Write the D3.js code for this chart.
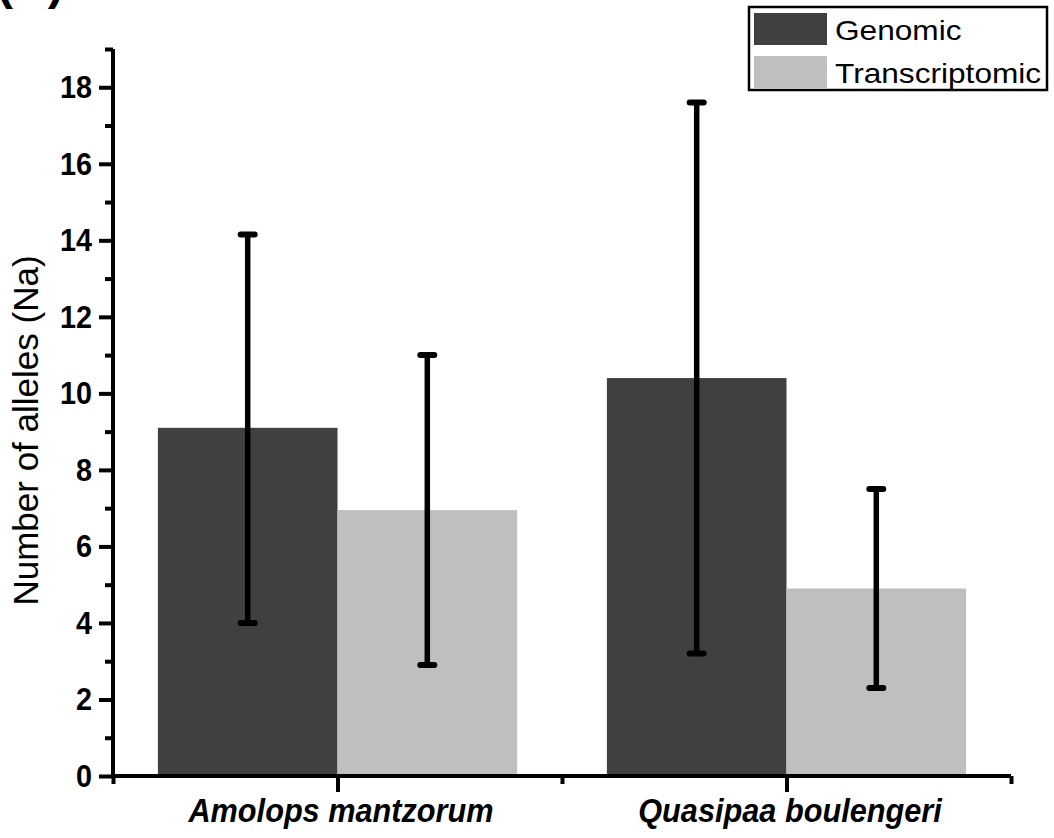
<!DOCTYPE html>
<html>
<head>
<meta charset="utf-8">
<script src="https://cdn.jsdelivr.net/npm/d3@7"></script>
<style>
  html, body { margin: 0; padding: 0; background: #fff; }
  svg { display: block; font-family: "Liberation Sans", Arial, sans-serif; }
</style>
</head>
<body>
<svg id="chart" width="1054" height="838"></svg>
<script>
const categories = ["Amolops mantzorum", "Quasipaa boulengeri"];
const seriesNames = ["Genomic", "Transcriptomic"];
const genomicMean = [9.1, 10.4];
const genomicLow = [4.0, 3.2];
const genomicHigh = [14.15, 17.6];
const transcriptomicMean = [6.95, 4.9];
const transcriptomicLow = [2.9, 2.3];
const transcriptomicHigh = [11.0, 7.5];
const yTicks = [0, 2, 4, 6, 8, 10, 12, 14, 16, 18];
const yMinorTicks = [1, 3, 5, 7, 9, 11, 13, 15, 17, 19];
const colors = ["#404040", "#bfbfbf"];

const rows = categories.map((c, i) => ({
  cat: c, pos: 1 + 2 * i,
  vals: [
    {s: 0, mean: genomicMean[i], lo: genomicLow[i], hi: genomicHigh[i]},
    {s: 1, mean: transcriptomicMean[i], lo: transcriptomicLow[i], hi: transcriptomicHigh[i]}
  ]
}));

const svg = d3.select("#chart");
const x = d3.scaleLinear().domain([0, 4]).range([113, 1011]);
const y = d3.scaleLinear().domain([0, 19]).range([776, 49]);
const barW = x(0.8) - x(0);

// Bars
const g = svg.append("g");
rows.forEach(r => {
  r.vals.forEach(v => {
    const x0 = v.s === 0 ? x(r.pos) - barW : x(r.pos);
    g.append("rect")
      .attr("x", x0).attr("y", y(v.mean))
      .attr("width", barW).attr("height", y(0) - y(v.mean))
      .attr("fill", colors[v.s]);
  });
});
// Error bars
rows.forEach(r => {
  r.vals.forEach(v => {
    const cx = v.s === 0 ? x(r.pos) - barW / 2 : x(r.pos) + barW / 2;
    g.append("line").attr("x1", cx).attr("x2", cx)
      .attr("y1", y(v.lo)).attr("y2", y(v.hi))
      .attr("stroke", "#000").attr("stroke-width", 5.5);
    [v.lo, v.hi].forEach(val => {
      g.append("line").attr("x1", cx - 7).attr("x2", cx + 7)
        .attr("y1", y(val)).attr("y2", y(val))
        .attr("stroke", "#000").attr("stroke-width", 6)
        .attr("stroke-linecap", "round");
    });
  });
});

// Y axis
const yAxis = d3.axisLeft(y).tickValues(yTicks).tickSize(14).tickPadding(7).tickFormat(d3.format("d"));
const ya = svg.append("g").attr("transform", `translate(${x(0)},0)`).call(yAxis);
const yMinor = d3.axisLeft(y).tickValues(yMinorTicks).tickSize(8).tickFormat("");
const ym = svg.append("g").attr("transform", `translate(${x(0)},0)`).call(yMinor);
[ya, ym].forEach(a => {
  a.select(".domain").attr("stroke", "#000").attr("stroke-width", 4);
  a.selectAll(".tick line").attr("stroke", "#000").attr("stroke-width", 4);
});
ym.select(".domain").remove();
ya.select(".domain").attr("d", `M0,${y(0)}V${y(19)}`);
ya.selectAll(".tick text")
  .attr("font-size", 32).attr("font-weight", "bold").attr("fill", "#000")
  .attr("font-family", "'Liberation Sans', Arial, sans-serif")
  .each(function() {
    const t = d3.select(this);
    const xx = +t.attr("x");
    t.attr("transform", `translate(${xx},0) scale(0.9,1) translate(${-xx},0)`);
  });

// X axis
const xAxis = d3.axisBottom(x).tickValues(rows.map(r => r.pos)).tickSize(16).tickPadding(7)
  .tickFormat((d, i) => categories[i]);
const xa = svg.append("g").attr("transform", `translate(0,${y(0)})`).call(xAxis);
const xMinor = d3.axisBottom(x).tickValues([0, 2, 4]).tickSize(8).tickFormat("");
const xm = svg.append("g").attr("transform", `translate(0,${y(0)})`).call(xMinor);
[xa, xm].forEach(a => {
  a.select(".domain").attr("stroke", "#000").attr("stroke-width", 4);
  a.selectAll(".tick line").attr("stroke", "#000").attr("stroke-width", 4);
});
xm.select(".domain").remove();
xa.select(".domain").attr("d", `M${x(0)},0H${x(4)}`);
xa.selectAll(".tick text")
  .attr("font-size", 33).attr("font-weight", "bold").attr("font-style", "italic")
  .attr("fill", "#000")
  .attr("font-family", "'Liberation Sans', Arial, sans-serif")
  .attr("transform", "translate(3,0) scale(0.93,1)");

// Y axis title
svg.append("text")
  .attr("transform", `translate(38,${(y(0) + y(19)) / 2 + 18}) rotate(-90)`)
  .attr("text-anchor", "middle")
  .attr("font-size", 35).attr("fill", "#000")
  .text("Number of alleles (Na)");

// Panel label (cut off at top, as in the source figure)
svg.append("text").attr("x", -3).attr("y", -1)
  .attr("font-size", 48).attr("font-weight", "bold").attr("fill", "#000")
  .text("(A)");

// Legend
const leg = svg.append("g");
leg.append("rect").attr("x", 749).attr("y", 7).attr("width", 298).attr("height", 83)
  .attr("fill", "#fff").attr("stroke", "#000").attr("stroke-width", 2.5);
seriesNames.forEach((s, i) => {
  leg.append("rect").attr("x", 754).attr("y", 13 + i * 43).attr("width", 73).attr("height", 32)
    .attr("fill", colors[i]);
  leg.append("text").attr("x", 835).attr("y", 40 + i * 43)
    .attr("font-size", 28).attr("fill", "#000")
    .attr("transform", `translate(${835},0) scale(1.13,1) translate(${-835},0)`)
    .text(s);
});
</script>
</body>
</html>
